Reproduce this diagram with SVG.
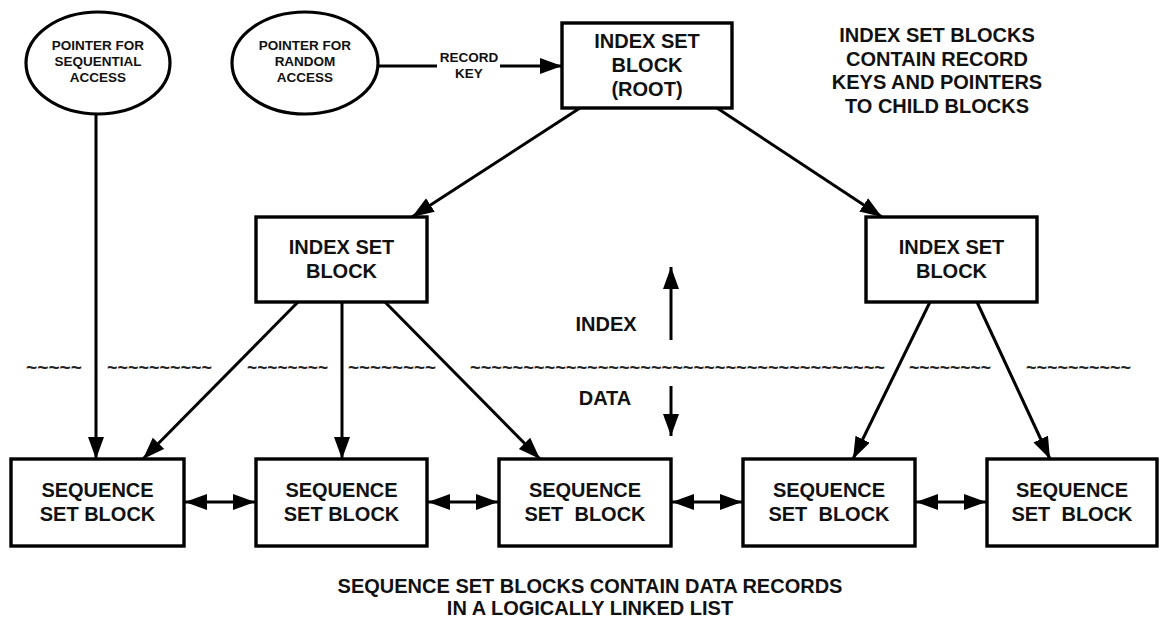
<svg xmlns="http://www.w3.org/2000/svg" width="1160" height="624" viewBox="0 0 1160 624">
<defs>
<marker id="ah" markerUnits="userSpaceOnUse" markerWidth="24" markerHeight="18" refX="22" refY="8" orient="auto-start-reverse" viewBox="0 0 24 18">
<path d="M0,0 L22,8 L0,16 z" fill="#000"/>
</marker>
</defs>
<style>
.box{fill:#fff;stroke:#000;stroke-width:3.4}
.el{fill:#fff;stroke:#000;stroke-width:3.2}
.t{font-family:"Liberation Sans",Arial,sans-serif;font-weight:bold;font-size:20px;text-anchor:middle;fill:#111}
.s{font-family:"Liberation Sans",Arial,sans-serif;font-weight:bold;font-size:13.5px;text-anchor:middle;fill:#111}
.w{font-family:"Liberation Sans",Arial,sans-serif;font-weight:bold;font-size:18px;fill:#222}
.c{stroke:#000;stroke-width:3;fill:none}
.a{stroke:#000;stroke-width:3;fill:none;marker-end:url(#ah)}
.d{stroke:#000;stroke-width:3;fill:none;marker-start:url(#ah);marker-end:url(#ah)}
</style>
<rect width="1160" height="624" fill="#fff"/>

<g id="connectors">
<line class="a" x1="96" y1="114" x2="96" y2="459"/>
<line class="c" x1="378" y1="66" x2="437" y2="66"/>
<line class="a" x1="500" y1="66" x2="562" y2="66"/>
<line class="a" x1="580" y1="108" x2="412" y2="217"/>
<line class="a" x1="717" y1="108" x2="882" y2="217"/>
<line class="a" x1="298" y1="302" x2="143" y2="459"/>
<line class="a" x1="342" y1="302" x2="342" y2="459"/>
<line class="a" x1="385" y1="302" x2="540" y2="459"/>
<line class="a" x1="930" y1="302" x2="853" y2="459"/>
<line class="a" x1="977" y1="302" x2="1050" y2="459"/>
<line class="d" x1="185" y1="502" x2="255" y2="502"/>
<line class="d" x1="428" y1="502" x2="498" y2="502"/>
<line class="d" x1="672" y1="502" x2="742" y2="502"/>
<line class="d" x1="916" y1="502" x2="986" y2="502"/>
<line class="a" x1="671" y1="340" x2="671" y2="267"/>
<line class="a" x1="671" y1="386" x2="671" y2="436"/>
</g>

<g id="ptr-seq">
<ellipse class="el" cx="98" cy="63" rx="72" ry="51"/>
<text class="s" x="98" y="50">POINTER FOR</text>
<text class="s" x="98" y="66">SEQUENTIAL</text>
<text class="s" x="98" y="82">ACCESS</text>
</g>
<g id="ptr-rand">
<ellipse class="el" cx="305" cy="63" rx="73" ry="51"/>
<text class="s" x="305" y="50">POINTER FOR</text>
<text class="s" x="305" y="66">RANDOM</text>
<text class="s" x="305" y="82">ACCESS</text>
</g>
<g id="record-key">
<text class="s" x="469" y="62">RECORD</text>
<text class="s" x="469" y="78">KEY</text>
</g>

<g id="root">
<rect class="box" x="562" y="23" width="170" height="85"/>
<text class="t" x="647" y="48">INDEX SET</text>
<text class="t" x="647" y="72">BLOCK</text>
<text class="t" x="647" y="96">(ROOT)</text>
</g>

<g id="note-index">
<text class="t" x="937" y="42">INDEX SET BLOCKS</text>
<text class="t" x="937" y="65.5">CONTAIN RECORD</text>
<text class="t" x="937" y="89">KEYS AND POINTERS</text>
<text class="t" x="937" y="112.5">TO CHILD BLOCKS</text>
</g>

<g id="index-left">
<rect class="box" x="256" y="217" width="171" height="85"/>
<text class="t" x="341.5" y="254">INDEX SET</text>
<text class="t" x="341.5" y="278">BLOCK</text>
</g>
<g id="index-right">
<rect class="box" x="866" y="217" width="171" height="85"/>
<text class="t" x="951.5" y="254">INDEX SET</text>
<text class="t" x="951.5" y="278">BLOCK</text>
</g>

<g id="labels">
<text class="t" x="606" y="331">INDEX</text>
<text class="t" x="605" y="405">DATA</text>
</g>

<g id="boundary">
<text class="w" x="26" y="374" textLength="56" lengthAdjust="spacingAndGlyphs">~~~~~</text>
<text class="w" x="107" y="374" textLength="105" lengthAdjust="spacingAndGlyphs">~~~~~~~~~~</text>
<text class="w" x="247" y="374" textLength="81" lengthAdjust="spacingAndGlyphs">~~~~~~~~</text>
<text class="w" x="348" y="374" textLength="88" lengthAdjust="spacingAndGlyphs">~~~~~~~~</text>
<text class="w" x="470" y="374" textLength="415" lengthAdjust="spacingAndGlyphs">~~~~~~~~~~~~~~~~~~~~~~~~~~~~~~~~~~~~~~~</text>
<text class="w" x="909" y="374" textLength="82" lengthAdjust="spacingAndGlyphs">~~~~~~~~</text>
<text class="w" x="1026" y="374" textLength="105" lengthAdjust="spacingAndGlyphs">~~~~~~~~~~</text>
</g>

<g id="seq1">
<rect class="box" x="11" y="459" width="173" height="87"/>
<text class="t" x="97.5" y="497">SEQUENCE</text>
<text class="t" x="97.5" y="521">SET BLOCK</text>
</g>
<g id="seq2">
<rect class="box" x="256" y="459" width="171" height="87"/>
<text class="t" x="341.5" y="497">SEQUENCE</text>
<text class="t" x="341.5" y="521">SET BLOCK</text>
</g>
<g id="seq3">
<rect class="box" x="499" y="459" width="172" height="87"/>
<text class="t" x="585" y="497">SEQUENCE</text>
<text class="t" x="585" y="521" xml:space="preserve">SET  BLOCK</text>
</g>
<g id="seq4">
<rect class="box" x="743" y="459" width="172" height="87"/>
<text class="t" x="829" y="497">SEQUENCE</text>
<text class="t" x="829" y="521" xml:space="preserve">SET  BLOCK</text>
</g>
<g id="seq5">
<rect class="box" x="987" y="459" width="170" height="87"/>
<text class="t" x="1072" y="497">SEQUENCE</text>
<text class="t" x="1072" y="521" xml:space="preserve">SET  BLOCK</text>
</g>

<g id="caption">
<text class="t" x="590" y="593">SEQUENCE SET BLOCKS CONTAIN DATA RECORDS</text>
<text class="t" x="590" y="615">IN A LOGICALLY LINKED LIST</text>
</g>
</svg>
